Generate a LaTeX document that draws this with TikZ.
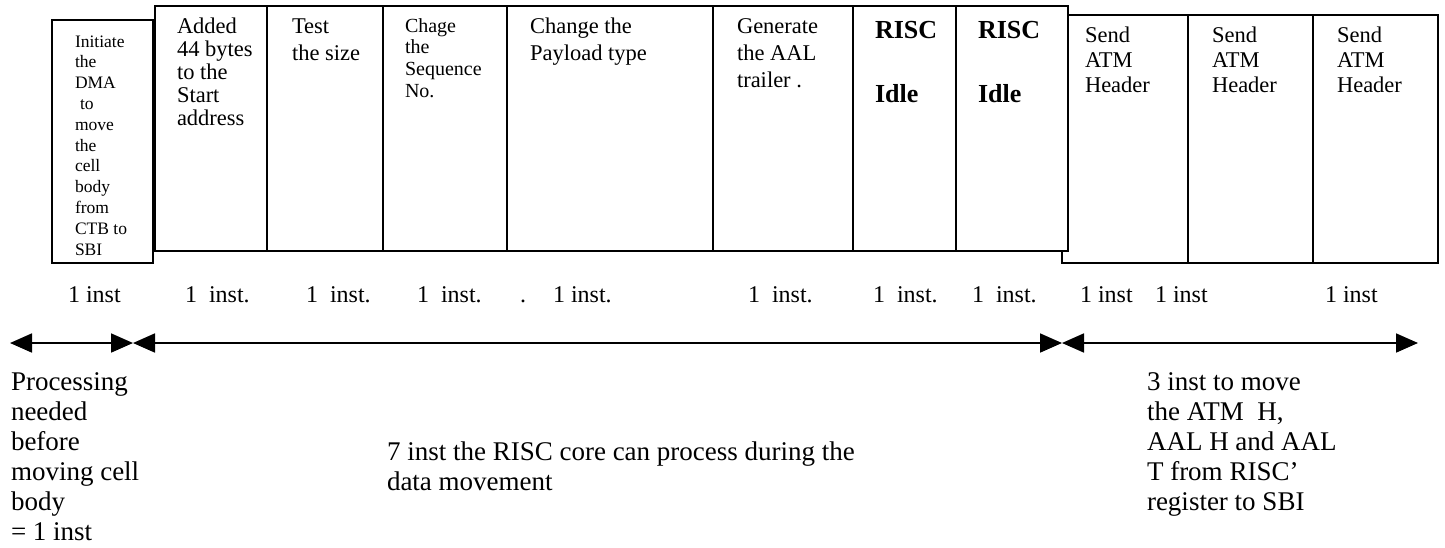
\documentclass[tikz,border=0pt]{standalone}
\usepackage{fontspec}
\setmainfont{Liberation Serif}
\usetikzlibrary{arrows.meta}
% lines stacked downward from the first baseline
\newcommand{\cellstack}[1]{\begin{tabular}[t]{@{}l@{}}#1\end{tabular}}
\begin{document}
\begin{tikzpicture}[x=1pt,y=-1pt,
  frame/.style={draw=black, line width=1.8pt, fill=white},
  divider/.style={draw=black, line width=1.8pt},
  lbl/.style={anchor=base west, inner sep=0pt, outer sep=0pt},
  cellA/.style={lbl, font=\fontsize{17.5}{20.8}\selectfont},
  cellB/.style={lbl, font=\fontsize{22.5}{23}\selectfont},
  cellC/.style={lbl, font=\fontsize{22.5}{27}\selectfont},
  cellD/.style={lbl, font=\fontsize{20}{21.7}\selectfont},
  cellE/.style={lbl, font=\fontsize{26}{32}\selectfont\bfseries},
  cellF/.style={lbl, font=\fontsize{22.5}{25}\selectfont},
  count/.style={lbl, font=\fontsize{24}{28}\selectfont},
  note/.style={lbl, font=\fontsize{27}{30}\selectfont},
  span/.style={line width=1.8pt,
    {Triangle[length=22pt,width=19pt]}-{Triangle[length=22pt,width=19pt]}}
]
\useasboundingbox (0,0) rectangle (1445,547);

% header-transfer group (drawn first, the middle group overlaps its left edge)
\draw[frame] (1062,15) rectangle (1438,263);
\draw[divider] (1188,15) -- (1188,263) (1313,15) -- (1313,263);

% RISC processing group
\draw[frame] (155,6) rectangle (1068,251);
\foreach \xd in {267,383,507,713,853,956}
  \draw[divider] (\xd,6) -- (\xd,251);

% DMA start box
\draw[frame] (52,20) rectangle (153,263);

% cell texts
\node[cellA] (dma) at (75,47) {\cellstack{Initiate\\the\\DMA\\\hspace{5pt}to\\move\\the\\cell\\body\\from\\CTB to\\SBI}};
\node[cellB] (add) at (177,33) {\cellstack{Added\\44 bytes\\to the\\Start\\address}};
\node[cellC] (size) at (292,33) {\cellstack{Test\\the size}};
\node[cellD] (seq) at (405,32) {\cellstack{Chage\\the\\Sequence\\No.}};
\node[cellC] (pay) at (530,33) {\cellstack{Change the\\Payload type}};
\node[cellC] (aal) at (737,33) {\cellstack{Generate\\the AAL\\trailer .}};
\node[cellE] (idle1) at (875,38) {\cellstack{RISC\\[32pt]Idle}};
\node[cellE] (idle2) at (978,38) {\cellstack{RISC\\[32pt]Idle}};
\node[cellF] (hdr1) at (1085,42) {\cellstack{Send\\ATM\\Header}};
\node[cellF] (hdr2) at (1212,42) {\cellstack{Send\\ATM\\Header}};
\node[cellF] (hdr3) at (1337,42) {\cellstack{Send\\ATM\\Header}};

% instruction counts
\node[count] (c1) at (68,302) {1 inst};
\node[count] (c2) at (185,302) {1\ \ inst.};
\node[count] (c3) at (306,302) {1\ \ inst.};
\node[count] (c4) at (417,302) {1\ \ inst.};
\node[count] (c5) at (520,302) {.\hspace{27pt}1\ inst.};
\node[count] (c6) at (748,302) {1\ \ inst.};
\node[count] (c7) at (873,302) {1\ \ inst.};
\node[count] (c8) at (972,302) {1\ \ inst.};
\node[count] (c9) at (1080,302) {1\ inst};
\node[count] (c10) at (1155,302) {1\ inst};
\node[count] (c11) at (1325,302) {1\ inst};

% time spans
\coordinate (t0) at (10,343);
\coordinate (t1) at (133,343);
\coordinate (t2) at (1062,343);
\coordinate (t3) at (1418,343);
\draw[span] (t0) -- (t1);
\draw[span] (t1) -- (t2);
\draw[span] (t2) -- (t3);

% span descriptions
\node[note] (pre) at (11,390) {\cellstack{Processing\\needed\\before\\moving cell\\body\\= 1 inst}};
\node[note] (mid) at (387,460) {\cellstack{7 inst the RISC core can process during the\\data movement}};
\node[note] (post) at (1147,390) {\cellstack{3 inst to move\\the ATM\ \ H,\\AAL H and AAL\\T from RISC'\\register to SBI}};
\end{tikzpicture}
\end{document}
